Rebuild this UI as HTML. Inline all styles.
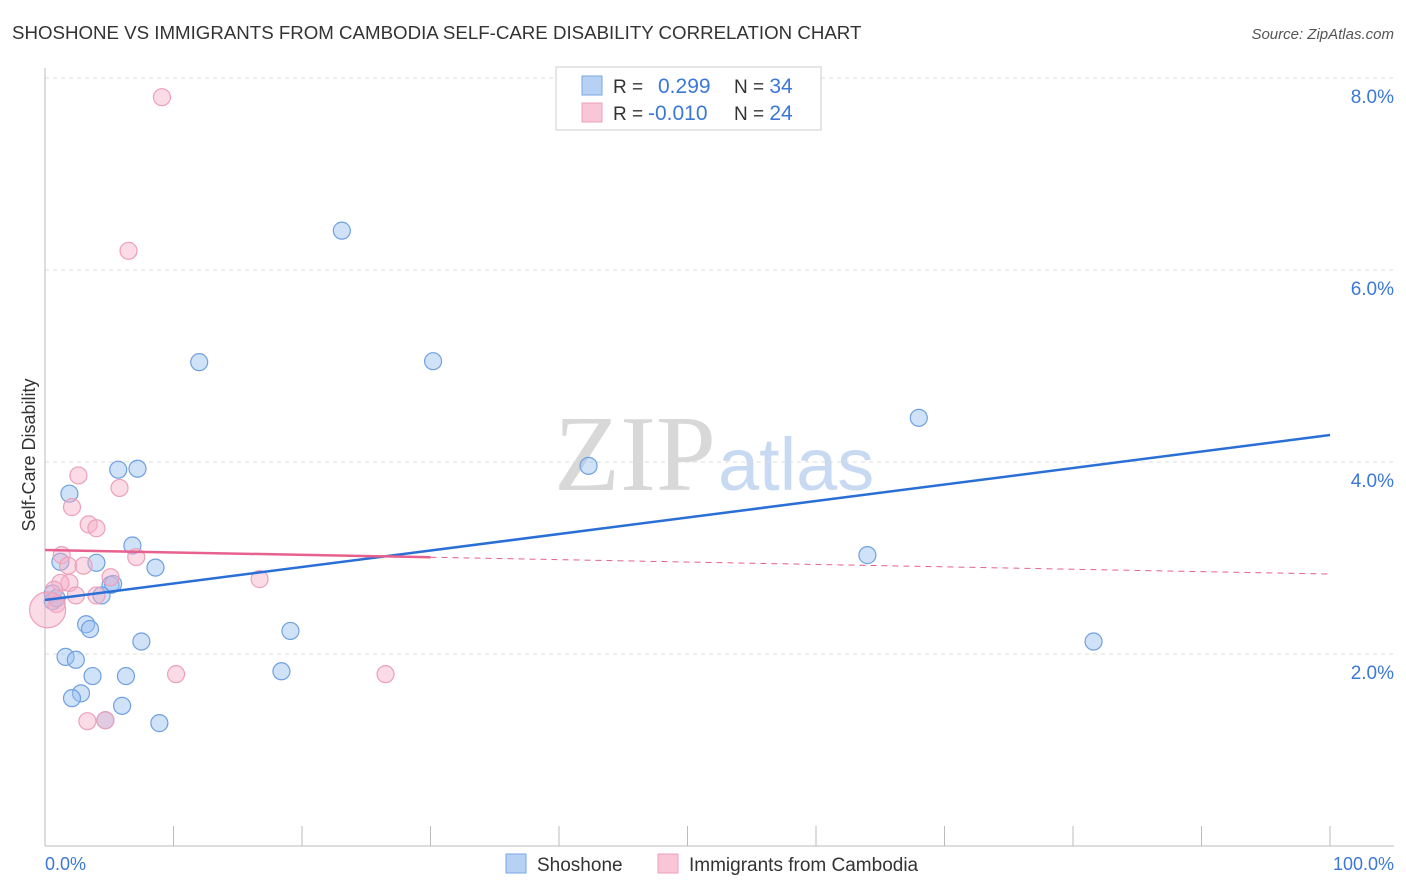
<!DOCTYPE html>
<html><head><meta charset="utf-8"><style>
body{margin:0;background:#fff;font-family:"Liberation Sans",sans-serif;}
svg{display:block}
</style></head><body>
<svg width="1406" height="892" id="chart">
<text x="12" y="39" font-size="18.7" fill="#333">SHOSHONE VS IMMIGRANTS FROM CAMBODIA SELF-CARE DISABILITY CORRELATION CHART</text>
<text x="1394" y="39" font-size="15" fill="#555" font-style="italic" text-anchor="end">Source: ZipAtlas.com</text>
<text x="716" y="490" font-size="108" fill="#d8d8d8" font-family="Liberation Serif,serif" text-anchor="end">ZIP</text>
<text x="718" y="490" font-size="74" fill="#c8daf2">atlas</text>
<g id="grid"></g><g id="axes"></g><g id="pts"></g><g id="lines"></g>
<text x="35" y="455" font-size="18" fill="#333" transform="rotate(-90 35 455)" text-anchor="middle">Self-Care Disability</text>
<text x="45" y="870" font-size="18" fill="#3b78d8">0.0%</text>
<text x="1394" y="870" font-size="18" fill="#3b78d8" text-anchor="end">100.0%</text>
<g>
<rect x="556" y="67" width="265" height="63" fill="#fff" stroke="#ccc"/>
<rect x="582" y="76" width="20" height="19" fill="#b7d1f4" stroke="#7aa6e4"/>
<rect x="582" y="103" width="20" height="19" fill="#f8c6d6" stroke="#eea0b8"/>
<text x="613" y="93" font-size="19" fill="#333">R = <tspan fill="#3b78d8" x="658" font-size="21">0.299</tspan><tspan fill="#333" x="734">N = </tspan><tspan fill="#3b78d8" font-size="21">34</tspan></text>
<text x="613" y="120" font-size="19" fill="#333">R = <tspan fill="#3b78d8" x="648" font-size="21">-0.010</tspan><tspan fill="#333" x="734">N = </tspan><tspan fill="#3b78d8" font-size="21">24</tspan></text>
</g>
<g>
<rect x="506" y="854" width="20" height="19" fill="#b7d1f4" stroke="#7aa6e4"/>
<text x="537" y="871" font-size="19" fill="#333">Shoshone</text>
<rect x="658" y="854" width="20" height="19" fill="#f8c6d6" stroke="#eea0b8"/>
<text x="689" y="871" font-size="19" fill="#333">Immigrants from Cambodia</text>
</g>
</svg>
<script>
const blueX=[23.1,12.0,30.2,68.0,42.3,5.7,7.2,1.9,6.8,4.0,1.2,8.6,64.0,5.1,5.3,4.4,0.6,0.6,0.9,3.2,3.5,7.5,19.1,81.6,1.6,2.4,3.7,6.3,18.4,2.8,2.1,6.0,4.7,8.9];
const blueY=[6.41,5.04,5.05,4.46,3.96,3.92,3.93,3.67,3.13,2.95,2.96,2.90,3.03,2.72,2.73,2.61,2.63,2.55,2.58,2.31,2.26,2.13,2.24,2.13,1.97,1.94,1.77,1.77,1.82,1.59,1.54,1.46,1.31,1.28];
const pinkX=[9.1,6.5,2.6,5.8,2.1,3.4,4.0,1.3,7.1,1.8,3.0,1.9,1.2,5.1,16.7,4.0,2.4,0.7,0.9,0.2,10.2,26.5,3.3,4.7];
const pinkY=[7.80,6.20,3.86,3.73,3.53,3.35,3.31,3.03,3.01,2.92,2.92,2.74,2.74,2.80,2.78,2.61,2.61,2.67,2.52,2.46,1.79,1.79,1.30,1.31];
const pinkR=[8.5,8.5,8.5,8.5,8.5,8.5,8.5,8.5,8.5,8.5,8.5,8.5,8.5,8.5,8.5,8.5,8.5,8.5,8.5,18,8.5,8.5,8.5,8.5];
const blueFit=[2.5625,4.281];
const pinkFit=[3.083,2.833];
const yTicks=[2,4,6,8];
const yTickLabels=["2.0%","4.0%","6.0%","8.0%"];
const xTicks=[0,10,20,30,40,50,60,70,80,90,100];
const NS="http://www.w3.org/2000/svg";
const xs=v=>45+v*12.85, ys=v=>846-v*96;
function mk(parent,tag,attrs){const e=document.createElementNS(NS,tag);for(const k in attrs)e.setAttribute(k,attrs[k]);document.getElementById(parent).appendChild(e);return e;}
yTicks.forEach((t,i)=>{
 const l=mk('grid','line',{x1:45,x2:1394,y1:ys(t),y2:ys(t),stroke:'#ddd','stroke-dasharray':'4,4'});
 
 
 const tx=mk('grid','text',{x:1394,y:ys(t)+25,'font-size':19,fill:'#3b78d8','text-anchor':'end'});
 tx.textContent=yTickLabels[i];
 
 
});
const ax=mk('axes','line',{x1:45,x2:45,y1:68,y2:846,stroke:'#bbb'});


const bx=mk('axes','line',{x1:45,x2:1394,y1:846,y2:846,stroke:'#bbb'});


xTicks.forEach(t=>{
 const l=mk('axes','line',{x1:xs(t),x2:xs(t),y1:826,y2:846,stroke:'#bbb'});
 
 
});
blueX.forEach((x,i)=>{
 const c=mk('pts','circle',{cx:xs(x),cy:ys(blueY[i]),r:8.5,fill:'rgba(150,190,240,0.45)',stroke:'#6fa0e0','stroke-width':1.2});
 
 
});
pinkX.forEach((x,i)=>{
 const c=mk('pts','circle',{cx:xs(x),cy:ys(pinkY[i]),r:pinkR[i],fill:'rgba(245,175,200,0.45)',stroke:'#eea0b8','stroke-width':1.2});
 
 
});
const bl=mk('lines','line',{x1:xs(0),y1:ys(blueFit[0]),x2:xs(100),y2:ys(blueFit[1]),stroke:'#2a6fd6','stroke-width':2.5});


const pAt=x=>pinkFit[0]+(pinkFit[1]-pinkFit[0])*x/100;
const pl=mk('lines','line',{x1:xs(0),y1:ys(pAt(0)),x2:xs(30),y2:ys(pAt(30)),stroke:'#e8608c','stroke-width':2.5});


const pd=mk('lines','line',{x1:xs(30),y1:ys(pAt(30)),x2:xs(100),y2:ys(pAt(100)),stroke:'#e8608c','stroke-width':1,'stroke-dasharray':'6,5'});


</script>
</body></html>
